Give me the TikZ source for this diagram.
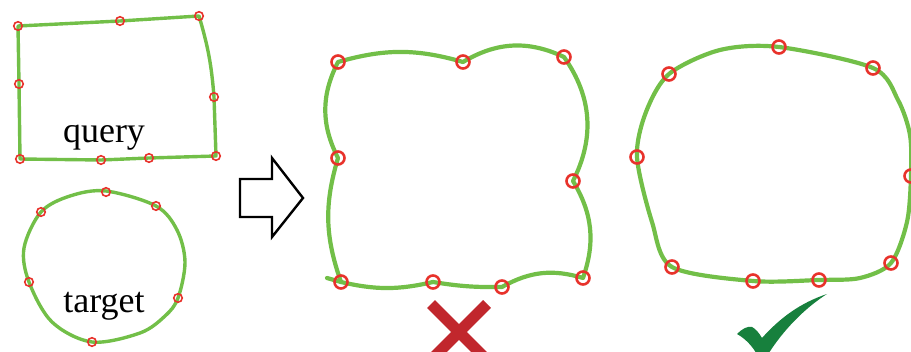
\documentclass[tikz,border=0pt]{standalone}
\usepackage{fontspec}
\setmainfont{Liberation Serif}
\begin{document}
\begin{tikzpicture}[x=1pt,y=-1pt]
\definecolor{lgreen}{HTML}{72BF48}
\definecolor{mred}{HTML}{E8322B}
\definecolor{xred}{HTML}{C1272D}
\definecolor{chk}{HTML}{17803D}
\tikzset{
  gline/.style={draw=lgreen,line width=4.2pt,line join=round,line cap=round},
  gthin/.style={draw=lgreen,line width=3.4pt,line join=round,line cap=round},
  smark/.style={circle,draw=mred,line width=1.6pt,minimum size=8.5pt,inner sep=0pt},
  bmark/.style={circle,draw=mred,line width=2.6pt,minimum size=13pt,inner sep=0pt},
  lbl/.style={font=\fontsize{36}{40}\selectfont,anchor=base,inner sep=0pt},
  arrowshape/.style={draw=black,line width=2.4pt,line join=miter,fill=white}
}
\useasboundingbox (0,0) rectangle (911,352);
\clip (0,0) rectangle (911,352);

% ---------- query rectangle ----------
\coordinate (q1) at (18,26);
\coordinate (q2) at (120,21);
\coordinate (q3) at (199,16);
\coordinate (q4) at (214,97);
\coordinate (q5) at (216,156);
\coordinate (q6) at (149,158);
\coordinate (q7) at (101,160);
\coordinate (q8) at (20,159);
\coordinate (q9) at (19,84);
\draw[gthin] (q1) -- (q2) -- (q3) to[bend left=6] (q4) -- (q5) -- (q6) -- (q7) -- (q8) -- (q9) -- cycle;
\foreach \p in {q1,q2,q3,q4,q5,q6,q7,q8,q9} \node[smark] at (\p) {};
\node[lbl] (query) at (104,143) {query};

% ---------- target circle ----------
\coordinate (t1) at (106,192);
\coordinate (t2) at (156,206);
\coordinate (t3) at (178,298);
\coordinate (t4) at (92,342);
\coordinate (t5) at (29,282);
\coordinate (t6) at (41,212);
\draw[gthin] plot[smooth cycle,tension=0.55] coordinates {(106,191) (156,206) (177,230) (185,262) (178,298) (165,316) (140,333) (92,342) (52,322) (29,282) (24,248) (41,212) (70,196)};
\foreach \p in {t1,t2,t3,t4,t5,t6} \node[smark] at (\p) {};
\node[lbl] (target) at (104,313) {target};

% ---------- hollow arrow ----------
\draw[arrowshape] (240,179) -- (272,179) -- (272,158) -- (303,198) -- (272,237) -- (272,217) -- (240,217) -- cycle;

% ---------- middle (wrong) shape ----------
\coordinate (m1) at (338,62);
\coordinate (m2) at (463,62);
\coordinate (m3) at (564,57);
\coordinate (m4) at (573,181);
\coordinate (m5) at (583,278);
\coordinate (m6) at (502,287);
\coordinate (m7) at (433,282);
\coordinate (m8) at (341,282);
\coordinate (m9) at (338,158);
\coordinate (mt) at (327,278);
\draw[gline] (m1) to[bend left=16] (m2) to[bend left=28] (m3) to[bend left=31] (m4)
  to[bend left=25] (m5) to[bend right=23] (m6) to[bend left=5] (m7) to[bend left=13] (m8)
  to[bend left=18] (m9) to[bend left=27] (m1);
\draw[gline] (mt) -- (m8);
\foreach \p in {m1,m2,m3,m4,m5,m6,m7,m8,m9} \node[bmark] at (\p) {};

% ---------- right (correct) shape ----------
\coordinate (r1) at (669,74);
\coordinate (r2) at (779,47);
\coordinate (r3) at (873,68);
\coordinate (r4) at (911,176);
\coordinate (r5) at (891,263);
\coordinate (r6) at (819,280);
\coordinate (r7) at (753,281);
\coordinate (r8) at (672,267);
\coordinate (r9) at (637,157);
\draw[gline] plot[smooth cycle,tension=0.5] coordinates {(669,74) (720,50) (779,47) (873,68) (898,100) (910,135) (911,176) (907,222) (891,263) (860,278) (819,280) (753,281) (672,267) (652,222) (637,157) (646,112)};
\foreach \p in {r1,r2,r3,r4,r5,r6,r7,r8,r9} \node[bmark] at (\p) {};

% ---------- red cross ----------
\coordinate (x1) at (431,304);
\coordinate (x2) at (487,360);
\coordinate (x3) at (487,304);
\coordinate (x4) at (431,360);
\draw[xred,line width=11pt] (x1) -- (x2);
\draw[xred,line width=11pt] (x3) -- (x4);

% ---------- check mark ----------
\fill[chk] (737,334) .. controls (742,329) and (747,326) .. (752,327)
  .. controls (756,329) and (759,333) .. (762,338)
  .. controls (780,318) and (800,303) .. (827,294)
  .. controls (805,308) and (783,330) .. (767,356)
  -- (758,356) .. controls (753,347) and (746,339) .. (737,334) -- cycle;
\end{tikzpicture}
\end{document}
